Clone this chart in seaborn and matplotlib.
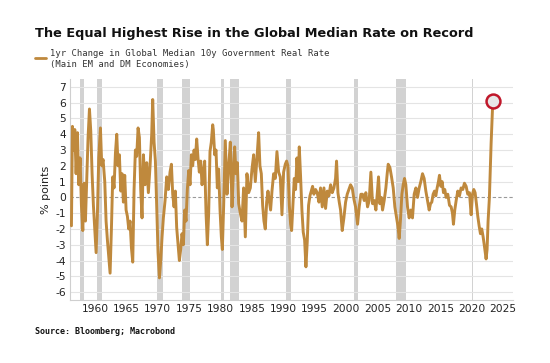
import matplotlib
matplotlib.use("Agg")
import matplotlib.pyplot as plt
import seaborn as sns
import pandas as pd

years = [
    1956.23, 1956.39, 1956.60, 1956.76, 1956.97, 1957.19, 1957.40, 1957.61, 1957.82, 1958.04,
    1958.25, 1958.46, 1958.67, 1958.88, 1959.10, 1959.31, 1959.52, 1959.73, 1959.95, 1960.16,
    1960.37, 1960.58, 1960.85, 1961.06, 1961.27, 1961.54, 1961.75, 1961.96, 1962.18, 1962.39,
    1962.60, 1962.81, 1963.02, 1963.24, 1963.45, 1963.66, 1963.87, 1964.09, 1964.30, 1964.51,
    1964.72, 1964.94, 1965.15, 1965.36, 1965.57, 1965.79, 1966.00, 1966.21, 1966.42, 1966.63,
    1966.85, 1967.06, 1967.27, 1967.48,
    1967.70, 1967.96, 1968.23, 1968.49, 1968.76, 1969.02, 1969.18, 1969.40, 1969.61, 1969.82,
    1970.03, 1970.25, 1970.46, 1970.67, 1970.88, 1971.15, 1971.41, 1971.68, 1971.94, 1972.16,
    1972.37, 1972.58, 1972.79, 1973.00, 1973.22, 1973.43, 1973.64, 1973.85, 1974.07, 1974.28,
    1974.49, 1974.70, 1974.92, 1975.13, 1975.34, 1975.55, 1975.77, 1975.98, 1976.19, 1976.40,
    1976.61, 1976.83, 1977.04, 1977.25, 1977.46, 1977.68, 1977.89, 1978.10, 1978.31, 1978.52,
    1978.74,
    1978.84, 1979.06, 1979.27, 1979.48, 1979.69, 1979.91, 1980.12, 1980.28, 1980.49, 1980.75,
    1981.02, 1981.29, 1981.55, 1981.82, 1982.08, 1982.24, 1982.45, 1982.67, 1982.88, 1983.14,
    1983.41, 1983.67, 1983.94, 1984.20, 1984.47, 1984.74, 1985.00, 1985.27, 1985.53, 1985.80,
    1986.06, 1986.27, 1986.49, 1986.70, 1986.91, 1987.12, 1987.34, 1987.55, 1987.76, 1987.97,
    1988.19, 1988.45, 1988.72, 1988.98, 1989.25, 1989.51, 1989.78, 1990.04, 1990.31,
    1990.52, 1990.73, 1990.95, 1991.16, 1991.32, 1991.53, 1991.74, 1991.95, 1992.17, 1992.38,
    1992.54, 1992.75, 1992.96, 1993.17, 1993.39, 1993.60, 1993.81, 1994.02, 1994.24, 1994.45,
    1994.66, 1994.87, 1995.14, 1995.40, 1995.67, 1995.93, 1996.20, 1996.47, 1996.73, 1997.00,
    1997.26, 1997.53, 1997.79, 1998.06, 1998.32, 1998.48, 1998.70, 1998.91, 1999.12, 1999.38,
    1999.65, 1999.92, 2000.18, 2000.45, 2000.71, 2000.98, 2001.24, 2001.51,
    2001.83, 2002.09, 2002.36, 2002.62, 2002.89, 2003.15, 2003.42, 2003.68, 2003.95, 2004.22,
    2004.48, 2004.75, 2004.96, 2005.17, 2005.38, 2005.60, 2005.81, 2006.07, 2006.34, 2006.55,
    2006.71, 2006.98, 2007.24, 2007.51, 2007.77, 2008.04, 2008.25, 2008.46, 2008.67, 2008.89,
    2009.10, 2009.31, 2009.52, 2009.79, 2010.05, 2010.32, 2010.58, 2010.85, 2011.12, 2011.38,
    2011.65, 2011.91, 2012.18, 2012.44, 2012.71, 2012.97, 2013.24,
    2013.45, 2013.66, 2013.87, 2014.09, 2014.30, 2014.51, 2014.72, 2014.88, 2015.09, 2015.31,
    2015.52, 2015.73, 2015.94, 2016.21, 2016.48, 2016.74, 2016.95, 2017.11, 2017.32, 2017.54,
    2017.80, 2018.07, 2018.33, 2018.60, 2018.86, 2019.13, 2019.39, 2019.66, 2019.93, 2020.14,
    2020.35, 2020.56, 2020.77, 2020.99, 2021.20, 2021.41, 2021.62, 2021.84, 2022.05, 2022.31,
    2022.47, 2022.63, 2022.84, 2023.11, 2023.38,
]

rate_change = [
    -1.8, 4.5, 3.0, 4.3, 1.5, 4.1, 0.8, 2.5, -0.5, -2.1,
    0.9, -1.5, 1.2, 3.8, 5.6, 4.2, 1.5, -0.5, -2.0, -3.5,
    -1.0, 2.5, 4.4, 2.0, 2.4, 1.0, -1.5, -2.7, -3.8, -4.8,
    -2.0, 1.3, 0.6, 2.8, 4.0, 2.0, 2.7, 0.4, 1.5, -0.3,
    1.4, -0.8, -1.2, -2.0, -1.5, -3.2, -4.1, 0.5, 3.0, 2.6,
    4.4, 3.8, 0.5, -1.3,
    2.7, 0.8, 2.2, 0.3, 2.0, 4.0, 6.2, 3.5, 2.3, -0.5,
    -3.5, -5.1, -4.0, -2.5, -1.3, -0.2, 1.3, 0.5, 1.6, 2.1,
    0.2, -0.6, 0.4, -1.9, -3.0, -4.0, -3.3, -2.3, -3.0, -0.8,
    -1.5, 0.5, 1.7, 0.8, 2.7, 2.0, 3.0, 2.4, 3.7, 2.5,
    1.6, 2.3, 0.8, 1.5, 2.3, -1.0, -3.0, -1.0, 2.9, 3.5,
    4.6,
    4.3, 2.7, 3.0, 0.6, 1.8, -0.8, -2.5, -3.3, -0.5, 3.6,
    0.2, 2.0, 3.5, -0.6, 2.0, 3.2, 1.5, 2.2, -0.4, -1.0,
    -1.5, 0.6, -2.5, 1.5, 0.3, 0.6, 1.8, 2.7, 1.0, 2.5,
    4.1, 2.0, 1.5, -0.5, -1.5, -2.0, -0.3, 0.4, -0.2, -0.8,
    0.4, 1.5, 1.2, 2.9, 1.6, 1.3, -1.1, 1.6, 2.1,
    2.3, 2.0, -0.5, -1.7, -2.1, -0.5, 1.2, 0.5, 2.5, 1.0,
    3.2, 1.3, -0.8, -2.2, -2.7, -4.4, -2.8, -0.5, 0.1, 0.4,
    0.7, 0.2, 0.5, 0.3, -0.3, 0.6, -0.6, 0.6, -0.7, 0.4,
    0.1, 0.8, 0.3, 0.6, 1.2, 2.3, 0.3, -0.3, -0.8, -2.1,
    -1.3, -0.3, 0.2, 0.5, 0.8, 0.6, -0.1, -0.6,
    -1.7, -0.6, 0.2, 0.2, -0.2, 0.3, -0.6, -0.2, 1.6, -0.4,
    -0.2, -0.8, 0.2, 1.3, -0.4, 0.0, -0.8, -0.2, 0.6, 1.5,
    2.1, 1.9, 1.3, 0.6, -0.6, -1.3, -1.8, -2.6, -1.4, 0.2,
    0.8, 1.2, 0.8, -0.6, -1.3, -0.8, -1.3, 0.2, 0.6, 0.0,
    0.6, 1.0, 1.5, 1.2, 0.4, -0.2, -0.8,
    -0.4, -0.3, 0.2, 0.4, 0.1, 0.6, 1.0, 1.4, 0.7, 1.0,
    0.3, 0.5, 0.0, 0.2, -0.5, -0.6, -1.0, -1.7, -0.8, -0.2,
    0.4, 0.1, 0.6, 0.5, 0.9, 0.7, 0.2, 0.3, -1.1, 0.2,
    0.5, 0.3, -0.4, -1.2, -1.8, -2.3, -2.0, -2.5, -3.1, -3.9,
    -3.3, -1.5, 0.0, 3.4, 6.1,
]

recession_starts = [1957.6, 1960.3, 1969.9, 1973.9, 1980.0, 1981.5, 1990.5, 2001.2, 2007.9, 2020.1]
recession_ends = [1958.3, 1961.1, 1970.9, 1975.2, 1980.5, 1982.9, 1991.2, 2001.9, 2009.5, 2020.3]

x_ticks = [1960, 1965, 1970, 1975, 1980, 1985, 1990, 1995, 2000, 2005, 2010, 2015, 2020, 2025]
y_ticks = [-6, -5, -4, -3, -2, -1, 0, 1, 2, 3, 4, 5, 6, 7]

title = "The Equal Highest Rise in the Global Median Rate on Record"
series_name = "1yr Change in Global Median 10y Government Real Rate"
series_sub = "(Main EM and DM Economies)"
source = "Source: Bloomberg; Macrobond"

line_color = "#BF893D"

sns.set_theme(style="white")
plt.rcParams["font.family"] = ["DejaVu Sans"]

df = pd.DataFrame({"year": years, "value": rate_change})

fig = plt.figure(figsize=(5.5, 3.63), dpi=100)
ax = fig.add_axes([70 / 550, 1 - 300 / 363, (513 - 70) / 550, (300 - 79) / 363])

for s, e in zip(recession_starts, recession_ends):
    ax.axvspan(s, e, color="#D2D2D2", lw=0, zorder=0)

for yv in y_ticks:
    if yv != 0:
        ax.axhline(yv, color="#E4E4E4", lw=0.8, zorder=0.5)
ax.axhline(0, color="#9A9A9A", lw=0.8, ls=(0, (3, 2)), zorder=0.6)

sns.lineplot(data=df, x="year", y="value", ax=ax, color=line_color, lw=2.1,
             legend=False, zorder=3)

last = df.iloc[-1]
ax.plot([last["year"]], [last["value"]], marker="o", ms=10, mfc="#E8E8E8",
        mec="#C0182B", mew=1.8, zorder=5, ls="none")

ax.set_xlim(1956.0, 2026.6)
ax.set_ylim(-6.5, 7.5)
ax.set_xticks(x_ticks)
ax.set_yticks(y_ticks)
ax.set_xticklabels([str(t) for t in x_ticks], fontsize=7.7, color="#222222")
ax.set_yticklabels([str(t) for t in y_ticks], fontsize=7.7, color="#222222")
ax.tick_params(axis="both", length=0, pad=3)
ax.set_xlabel("")
ax.set_ylabel("% points", fontsize=8, color="#222222", labelpad=3)

for side in ["top", "right"]:
    ax.spines[side].set_visible(False)
for side in ["left", "bottom"]:
    ax.spines[side].set_color("#CFCFCF")
    ax.spines[side].set_linewidth(0.8)

fig.text(35 / 550, 1 - 33 / 363, title, fontsize=9.3, fontweight="bold",
         color="#111111", va="center", ha="left")
fig.add_artist(plt.Line2D([35 / 550, 46 / 550], [1 - 58 / 363, 1 - 58 / 363],
                          color=line_color, lw=2))
fig.text(50 / 550, 1 - 53 / 363, series_name, fontsize=6.4, family="DejaVu Sans Mono",
         color="#333333", va="center", ha="left")
fig.text(50 / 550, 1 - 64 / 363, series_sub, fontsize=6.4, family="DejaVu Sans Mono",
         color="#333333", va="center", ha="left")
fig.text(35 / 550, 1 - 331 / 363, source, fontsize=6.0, family="DejaVu Sans Mono",
         fontweight="bold", color="#111111", va="center", ha="left")

fig.savefig("out.png", dpi=100)
